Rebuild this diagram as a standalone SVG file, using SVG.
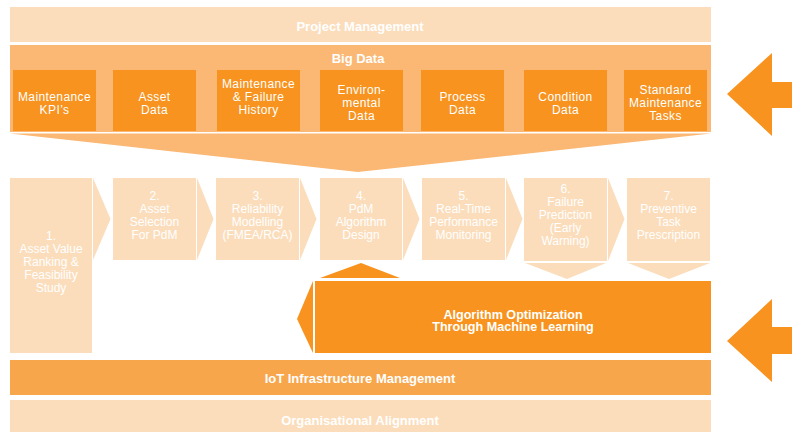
<svg xmlns="http://www.w3.org/2000/svg" width="792" height="432" viewBox="0 0 792 432">
<style>
.peach{fill:#FBDDBB}
.light{fill:#FAB874}
.mid{fill:#F8A64B}
.dark{fill:#F7931E}
text{font-family:"Liberation Sans",Arial,Helvetica,sans-serif;fill:#FFFFFF;text-anchor:middle}
.hd{font-weight:bold;font-size:13px}
.db{font-size:12px;letter-spacing:0.4px}
.st{font-size:12px}
.al{font-weight:bold;font-size:12.6px}
</style>
<rect width="792" height="432" fill="#FFFFFF"/>

<g id="project-management">
<rect class="peach" x="10" y="7" width="701" height="35"/>
<text class="hd" x="360" y="31">Project Management</text>
</g>

<g id="big-data">
<rect class="light" x="10" y="45" width="701" height="87"/>
<polygon class="light" points="10,133.5 711,133.5 358,172"/>
<text class="hd" x="358" y="62.5">Big Data</text>
</g>

<g id="data-kpis"><rect class="dark" x="13" y="70" width="83" height="61"/>
<text class="db" x="54.5" y="100.8">Maintenance</text><text class="db" x="54.5" y="113.8">KPI’s</text></g>
<g id="data-asset"><rect class="dark" x="113" y="70" width="83" height="61"/>
<text class="db" x="154.5" y="100.8">Asset</text><text class="db" x="154.5" y="113.8">Data</text></g>
<g id="data-history"><rect class="dark" x="217" y="70" width="83" height="61"/>
<text class="db" x="258.5" y="87.8">Maintenance</text><text class="db" x="258.5" y="100.8">&amp; Failure</text><text class="db" x="258.5" y="113.8">History</text></g>
<g id="data-environmental"><rect class="dark" x="320" y="70" width="83" height="61"/>
<text class="db" x="361.5" y="94">Environ-</text><text class="db" x="361.5" y="107">mental</text><text class="db" x="361.5" y="120">Data</text></g>
<g id="data-process"><rect class="dark" x="421" y="70" width="83" height="61"/>
<text class="db" x="462.5" y="100.8">Process</text><text class="db" x="462.5" y="113.8">Data</text></g>
<g id="data-condition"><rect class="dark" x="524" y="70" width="83" height="61"/>
<text class="db" x="565.5" y="100.8">Condition</text><text class="db" x="565.5" y="113.8">Data</text></g>
<g id="data-standard-tasks"><rect class="dark" x="624" y="70" width="83" height="61"/>
<text class="db" x="665.5" y="94">Standard</text><text class="db" x="665.5" y="107">Maintenance</text><text class="db" x="665.5" y="120">Tasks</text></g>

<g id="step1"><rect class="peach" x="10" y="178" width="82" height="175"/>
<text class="st" x="51" y="240">1.</text><text class="st" x="51" y="253">Asset Value</text><text class="st" x="51" y="266">Ranking &amp;</text><text class="st" x="51" y="279">Feasibility</text><text class="st" x="51" y="292">Study</text></g>
<g id="step2"><rect class="peach" x="113" y="178" width="83" height="82"/>
<text class="st" x="154.5" y="200">2.</text><text class="st" x="154.5" y="213">Asset</text><text class="st" x="154.5" y="226">Selection</text><text class="st" x="154.5" y="239">For PdM</text></g>
<g id="step3"><rect class="peach" x="216" y="178" width="83" height="82"/>
<text class="st" x="257.5" y="200">3.</text><text class="st" x="257.5" y="213">Reliability</text><text class="st" x="257.5" y="226">Modelling</text><text class="st" x="257.5" y="239">(FMEA/RCA)</text></g>
<g id="step4"><rect class="peach" x="320" y="178" width="82" height="82"/>
<text class="st" x="361" y="200">4.</text><text class="st" x="361" y="213">PdM</text><text class="st" x="361" y="226">Algorithm</text><text class="st" x="361" y="239">Design</text></g>
<g id="step5"><rect class="peach" x="422" y="178" width="83" height="82"/>
<text class="st" x="463.5" y="200">5.</text><text class="st" x="463.5" y="213">Real-Time</text><text class="st" x="463.5" y="226">Performance</text><text class="st" x="463.5" y="239">Monitoring</text></g>
<g id="step6"><rect class="peach" x="524" y="178" width="83" height="83"/>
<text class="st" x="565.5" y="193.3">6.</text><text class="st" x="565.5" y="206.3">Failure</text><text class="st" x="565.5" y="219.3">Prediction</text><text class="st" x="565.5" y="232.3">(Early</text><text class="st" x="565.5" y="245.3">Warning)</text></g>
<g id="step7"><rect class="peach" x="627" y="178" width="83" height="83"/>
<text class="st" x="668.5" y="200">7.</text><text class="st" x="668.5" y="213">Preventive</text><text class="st" x="668.5" y="226">Task</text><text class="st" x="668.5" y="239">Prescription</text></g>

<g id="algorithm-optimization">
<rect class="dark" x="315" y="281" width="396" height="72"/>
<text class="al" x="513" y="318.5">Algorithm Optimization</text>
<text class="al" x="513" y="331">Through Machine Learning</text>
</g>

<g id="iot-infrastructure">
<rect class="mid" x="10" y="360" width="701" height="35"/>
<text class="hd" x="360" y="382.5">IoT Infrastructure Management</text>
</g>

<g id="organisational-alignment">
<rect class="peach" x="10" y="400" width="701" height="32"/>
<text class="hd" x="360" y="424.5">Organisational Alignment</text>
</g>

<g id="connectors">
<polygon class="peach" points="93,178 110.5,219 93,260"/>
<polygon class="peach" points="197,178 213.5,219 197,260"/>
<polygon class="peach" points="300,178 316.5,219 300,260"/>
<polygon class="peach" points="403,178 419.5,219 403,260"/>
<polygon class="peach" points="506,178 522.5,219 506,260"/>
<polygon class="peach" points="608,178 624.5,219 608,261"/>
<polygon class="peach" points="525,263 567,279 606,263"/>
<polygon class="peach" points="628,263 669,279 710,263"/>
<polygon class="dark" points="320,278 361,263 400,278"/>
<polygon class="dark" points="313,281 297,319 313,353"/>
<polygon class="dark" points="727,94 772,53 772,82 792,82 792,108 772,108 772,136"/>
<polygon class="dark" points="727,341 772,299 772,327 792,327 792,354 772,354 772,382"/>
</g>
</svg>
